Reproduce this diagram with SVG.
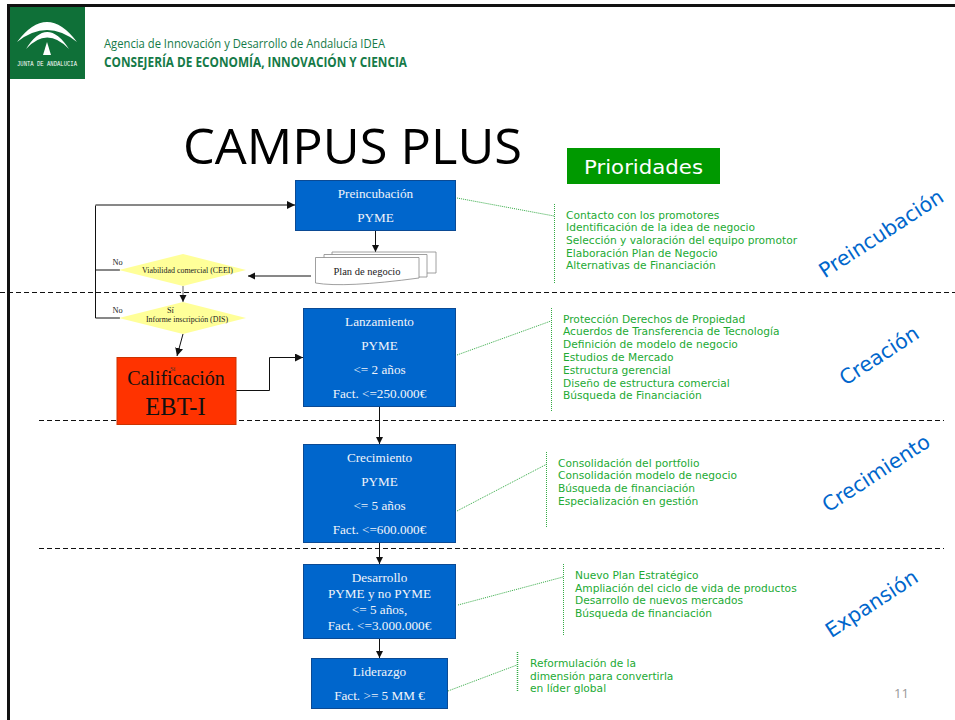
<svg xmlns="http://www.w3.org/2000/svg" width="955" height="720" viewBox="0 0 955 720">
<style>
.box{fill:#0066cc;stroke:#0b4a94;stroke-width:1}
.bt{fill:#f0f4fa;font-size:13.2px;text-anchor:middle;font-family:"Liberation Serif",serif}
.g{fill:#22aa33;font-size:10.65px;font-family:"DejaVu Sans",sans-serif}
.gl{fill:none;stroke:#33aa44;stroke-width:1;stroke-dasharray:1 1}
.ph{fill:#0066cc;font-size:20.5px;font-family:"DejaVu Sans",sans-serif;text-anchor:middle}
.dash{stroke:#111;stroke-width:1;stroke-dasharray:5 3;fill:none}
.c{fill:none;stroke:#111;stroke-width:1}
.d{fill:#ffff99;stroke:none}
.dt{fill:#222;font-size:8.3px;font-family:"Liberation Serif",serif}
.doc{fill:#fff;stroke:#888;stroke-width:.8}
</style>
<defs>
<marker id="a" markerWidth="8" markerHeight="8" refX="7" refY="3.5" orient="auto" markerUnits="userSpaceOnUse"><path d="M0 0L7 3.5L0 7z" fill="#111"/></marker>
<marker id="b" markerWidth="10" markerHeight="10" refX="8" refY="4" orient="auto" markerUnits="userSpaceOnUse"><path d="M0 0L8 4L0 8z" fill="#111"/></marker>
</defs>
<rect width="955" height="720" fill="#fff"/>
<path d="M955 5.500H8.500V720" fill="none" stroke="#111" stroke-width="3"/>

<g id="logo">
<rect x="10" y="7" width="75" height="72" fill="#0f7038"/>
<path d="M17 42Q47 2 77 42Q47 18 17 42z" fill="#fff"/>
<path d="M26 49Q47 15 69 49Q47 26 26 49z" fill="#fff"/>
<path d="M47 42L51 55H43z" fill="#fff"/>
<text x="47" y="66" fill="#fff" font-size="6.500" text-anchor="middle" font-family="Liberation Mono,monospace" textLength="60" lengthAdjust="spacingAndGlyphs">JUNTA DE ANDALUCIA</text>
</g>
<g id="header">
<text x="104" y="48" fill="#157a48" font-size="13.500" font-family="Open Sans,sans-serif" textLength="281" lengthAdjust="spacingAndGlyphs">Agencia de Innovación y Desarrollo de Andalucía IDEA</text>
<text x="104" y="67" fill="#157a48" font-size="13.500" font-weight="700" font-family="Open Sans,sans-serif" textLength="303" lengthAdjust="spacingAndGlyphs">CONSEJERÍA DE ECONOMÍA, INNOVACIÓN Y CIENCIA</text>
</g>
<text id="title" x="183" y="164" fill="#000" font-size="49" font-family="Open Sans,sans-serif" textLength="339" lengthAdjust="spacingAndGlyphs">CAMPUS PLUS</text>
<g id="prioridades">
<rect x="567" y="148" width="153" height="36" fill="#009900"/>
<text x="643.500" y="174" fill="#fff" font-size="20" text-anchor="middle" font-family="DejaVu Sans,sans-serif" textLength="119" lengthAdjust="spacingAndGlyphs">Prioridades</text>
</g>

<g id="dividers">
<path class="dash" d="M0 292.500H955"/>
<path class="dash" d="M39 420.500H944"/>
<path class="dash" d="M39 548.500H944"/>
</g>

<g id="connectors">
<path class="c" d="M120 270H95.500V205.500"/>
<path class="c" d="M120 318H95.500V270" stroke-width="1.300"/>
<path class="c" d="M95.500 205H295" stroke-width="1.300" marker-end="url(#b)"/>
<path class="c" d="M375.500 231V252" marker-end="url(#a)"/>
<path class="c" d="M311 276H248" marker-end="url(#a)"/>
<path class="c" d="M183 286V302" style="stroke:#666" marker-end="url(#a)"/>
<path class="c" d="M183 334L177 356" marker-end="url(#b)"/>
<path class="c" d="M236 390.500H269.500V357.500H303" marker-end="url(#b)"/>
<path class="c" d="M379.500 407V444" marker-end="url(#a)"/>
<path class="c" d="M379.500 543V564" marker-end="url(#a)"/>
<path class="c" d="M379.500 639V658" marker-end="url(#a)"/>
<path class="gl" d="M457 198L554 216"/>
<path class="gl" d="M457 355L551 321"/>
<path class="gl" d="M457 511L547 464"/>
<path class="gl" d="M458 605L563 577"/>
<path class="gl" d="M448 691L517 665"/>
<path class="gl" d="M554.500 204V284"/>
<path class="gl" d="M551.500 308V412"/>
<path class="gl" d="M546.500 452V528"/>
<path class="gl" d="M563.500 564V636"/>
<path class="gl" d="M517.500 652V692" style="stroke-width:1.500"/>
</g>

<g id="preincubacion">
<rect class="box" x="295.500" y="180.500" width="160" height="50"/>
<text class="bt" x="375.500" y="198">Preincubación</text>
<text class="bt" x="375.500" y="222">PYME</text>
</g>
<g id="plan">
<path class="doc" d="M332 252H436V273H332z"/>
<path class="doc" d="M324 254.500H427V277H324z"/>
<path class="doc" d="M315.500 257.500H419V278Q345 288 315.500 283z"/>
<text x="367" y="275" fill="#222" font-size="10.500" text-anchor="middle" font-family="Liberation Serif,serif">Plan de negocio</text>
</g>
<g id="viabilidad">
<path class="d" d="M183 254L246 270L183 286L119 270z"/>
<text class="dt" x="142" y="273" textLength="91" lengthAdjust="spacingAndGlyphs">Viabilidad comercial (CEEI)</text>
<text class="dt" x="112.500" y="265">No</text>
</g>
<g id="informe">
<path class="d" d="M183 302L246 318L183 334L119 318z"/>
<text class="dt" x="167" y="313">Sí</text>
<text class="dt" x="146" y="322" textLength="82" lengthAdjust="spacingAndGlyphs">Informe inscripción (DIS)</text>
<text class="dt" x="112.500" y="313">No</text>
</g>
<g id="calificacion">
<rect x="117" y="357.500" width="119" height="67" fill="#ff3300" stroke="#cc3300"/>
<text x="170" y="371" fill="#333" font-size="6.500" font-family="Liberation Serif,serif">Sí</text>
<text x="176" y="385" fill="#111" font-size="20" text-anchor="middle" font-family="Liberation Serif,serif">Calificación</text>
<text x="175.500" y="415" fill="#111" font-size="24.500" text-anchor="middle" font-family="Liberation Serif,serif">EBT-I</text>
</g>
<g id="lanzamiento">
<rect class="box" x="303.500" y="308.500" width="152" height="98"/>
<text class="bt" x="379.500" y="326">Lanzamiento</text>
<text class="bt" x="379.500" y="350">PYME</text>
<text class="bt" x="379.500" y="374">&lt;= 2 años</text>
<text class="bt" x="379.500" y="398">Fact. &lt;=250.000€</text>
</g>
<g id="crecimiento">
<rect class="box" x="303.500" y="444.500" width="152" height="98"/>
<text class="bt" x="379.500" y="462">Crecimiento</text>
<text class="bt" x="379.500" y="486">PYME</text>
<text class="bt" x="379.500" y="510">&lt;= 5 años</text>
<text class="bt" x="379.500" y="534">Fact. &lt;=600.000€</text>
</g>
<g id="desarrollo">
<rect class="box" x="303.500" y="564.500" width="152" height="74"/>
<text class="bt" x="379.500" y="582">Desarrollo</text>
<text class="bt" x="379.500" y="598">PYME y no PYME</text>
<text class="bt" x="379.500" y="614">&lt;= 5 años,</text>
<text class="bt" x="379.500" y="630">Fact. &lt;=3.000.000€</text>
</g>
<g id="liderazgo">
<rect class="box" x="311.500" y="658.500" width="136" height="50"/>
<text class="bt" x="379.500" y="676">Liderazgo</text>
<text class="bt" x="379.500" y="700">Fact. &gt;= 5 MM €</text>
</g>

<g id="list1">
<text class="g" x="566" y="219">Contacto con los promotores</text>
<text class="g" x="566" y="231">Identificación de la idea de negocio</text>
<text class="g" x="566" y="244">Selección y valoración del equipo promotor</text>
<text class="g" x="566" y="257">Elaboración Plan de Negocio</text>
<text class="g" x="566" y="269">Alternativas de Financiación</text>
</g>
<g id="list2">
<text class="g" x="563" y="323">Protección Derechos de Propiedad</text>
<text class="g" x="563" y="335">Acuerdos de Transferencia de Tecnología</text>
<text class="g" x="563" y="348">Definición de modelo de negocio</text>
<text class="g" x="563" y="361">Estudios de Mercado</text>
<text class="g" x="563" y="374">Estructura gerencial</text>
<text class="g" x="563" y="387">Diseño de estructura comercial</text>
<text class="g" x="563" y="399">Búsqueda de Financiación</text>
</g>
<g id="list3">
<text class="g" x="558" y="467">Consolidación del portfolio</text>
<text class="g" x="558" y="479">Consolidación modelo de negocio</text>
<text class="g" x="558" y="492">Búsqueda de financiación</text>
<text class="g" x="558" y="505">Especialización en gestión</text>
</g>
<g id="list4">
<text class="g" x="575" y="579">Nuevo Plan Estratégico</text>
<text class="g" x="575" y="592">Ampliación del ciclo de vida de productos</text>
<text class="g" x="575" y="604">Desarrollo de nuevos mercados</text>
<text class="g" x="575" y="617">Búsqueda de financiación</text>
</g>
<g id="list5">
<text class="g" x="530" y="667">Reformulación de la</text>
<text class="g" x="530" y="680">dimensión para convertirla</text>
<text class="g" x="530" y="692">en líder global</text>
</g>

<g id="phases">
<text class="ph" transform="translate(885 239.500) rotate(-33)">Preincubación</text>
<text class="ph" transform="translate(883 361.500) rotate(-33)">Creación</text>
<text class="ph" transform="translate(880 479) rotate(-33)">Crecimiento</text>
<text class="ph" transform="translate(875.500 609.500) rotate(-33)">Expansión</text>
</g>
<text id="page" x="894" y="698" fill="#999" font-size="13" font-family="Open Sans,sans-serif">11</text>
</svg>
